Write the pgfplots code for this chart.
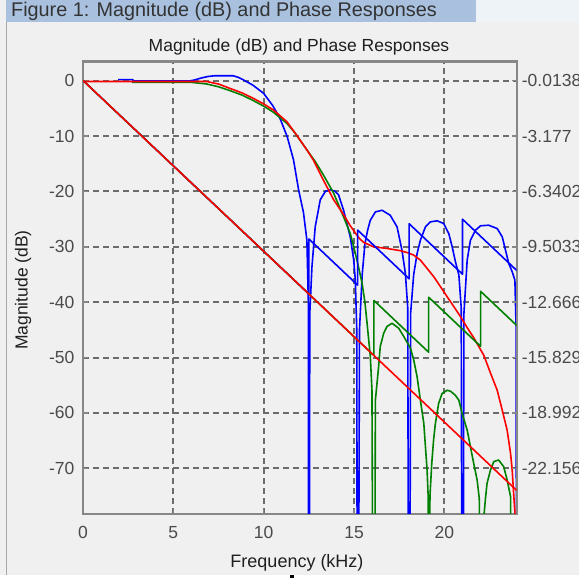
\documentclass[border=0pt]{standalone}
\usepackage{pgfplots}
\pgfplotsset{compat=1.18}
\usepackage{fontspec}
\setmainfont{Liberation Sans}
\definecolor{winbg}{HTML}{F0F0F0}
\definecolor{titlebar}{HTML}{A9C1DE}
\definecolor{gridc}{HTML}{6C6C6C}
\definecolor{axc}{HTML}{878787}
\definecolor{tickc}{HTML}{4A4A4A}
\definecolor{mgreen}{HTML}{008000}
\definecolor{mblue}{HTML}{0000FF}
\definecolor{mred}{HTML}{FF0000}

\pgfplotstableread{
f db
1.94 0.2
2.75 0.2
2.8 -0.05
5.9 -0.05
6.2 0.15
6.5 0.45
6.9 0.75
7.3 0.9
8.3 0.9
8.6 0.6
8.9 0.1
9.4 -0.8
10.0 -2.3
10.5 -4.5
10.9 -6.8
11.3 -10.1
11.65 -14.3
11.93 -19.7
12.2 -23.8
12.39 -28.8
12.47 -40
12.5 -150
12.55 -42
12.67 -33.6
12.85 -26.4
13.13 -21.5
13.41 -20
13.68 -19.7
13.95 -20
14.14 -20.6
14.42 -23.4
14.79 -28.2
14.98 -32.4
15.07 -36
15.15 -45
15.2 -150
15.3 -45
15.45 -35
15.6 -29.5
15.75 -27
15.9 -25.2
16.18 -23.7
16.55 -23.4
17.0 -24.3
17.38 -26.4
17.65 -30.6
17.84 -34.8
17.97 -41
18.05 -150
18.13 -42
18.3 -35
18.49 -31.2
18.67 -28.8
18.95 -26.4
19.22 -25.5
19.6 -25.3
19.96 -25.8
20.24 -27.6
20.43 -30
20.61 -32.7
20.8 -35.1
20.93 -41
21.0 -150
21.08 -42
21.26 -32.4
21.44 -28.8
21.72 -27
22.0 -26.2
22.45 -26.1
22.92 -26.7
23.2 -28.2
23.38 -30.6
23.56 -33
23.75 -34.5
23.9 -36
23.97 -45
24.0 -150
}\bluemag

\pgfplotstableread{
f db
2.7 -0.3
6.0 -0.3
6.85 -0.6
7.5 -1.1
8.14 -1.8
8.8 -2.6
9.43 -3.6
10.0 -4.6
10.54 -5.7
11.28 -7.7
11.7 -9.3
12.02 -10.8
12.5 -13.0
12.85 -14.6
13.3 -17.0
13.87 -20.3
14.42 -24.6
14.79 -27.6
14.98 -30
15.16 -32.4
15.44 -36.5
15.6 -40
15.72 -43.8
15.9 -49.8
15.99 -55.9
16.1 -150
16.18 -57.7
16.36 -51.6
16.45 -48
16.64 -45.6
16.82 -44.4
17.1 -43.8
17.47 -44.7
17.75 -46.2
18.12 -48.3
18.3 -50.4
18.49 -53.5
18.67 -57.7
18.86 -61.9
18.95 -66.1
19.04 -70.3
19.1 -75
19.13 -150
19.2 -75
19.3 -69.1
19.4 -64.9
19.5 -61.9
19.68 -58.3
19.87 -56.5
20.15 -55.9
20.35 -56.1
20.6 -56.8
20.8 -57.7
20.98 -60.1
21.26 -63.1
21.44 -66.1
21.62 -69.1
21.81 -72.1
21.93 -75.5
22.0 -150
22.15 -80
22.27 -75.5
22.36 -72.7
22.55 -70.3
22.73 -68.8
23.0 -68.5
23.28 -69.7
23.47 -72.1
23.66 -75.1
23.75 -150
}\greenmag

\pgfplotstableread{
f db
0 -0.15
6.85 -0.15
7.5 -0.6
8.14 -1.4
8.8 -2.2
9.43 -3.2
10.0 -4.2
10.54 -5.3
11.28 -7.4
11.86 -10
12.39 -12.5
12.76 -14.4
13.31 -18
13.87 -21.5
14.42 -24.2
14.79 -26.2
15.07 -27.5
15.3 -28.5
15.53 -29.2
16.08 -30
16.83 -30.3
17.56 -30.7
18.0 -31.1
18.3 -31.5
18.67 -32.4
19.04 -33.9
19.41 -35.4
19.78 -37.2
20.15 -39
20.52 -40.8
20.89 -42.6
21.26 -44.6
21.62 -46.4
22.18 -49.6
22.55 -52.8
22.92 -55.9
23.2 -59.5
23.47 -63.1
23.66 -67.3
23.75 -70.3
23.82 -74
23.9 -78
23.95 -150
}\redmag

\pgfplotstableread{
f ph
0 0
12.5 -12.198
12.5 -9.056
15.2 -11.691
15.2 -8.549
18.05 -11.330
18.05 -8.188
21.0 -11.067
21.0 -7.925
24.0 -10.852
}\bluephase

\pgfplotstableread{
f ph
0 0
16.1 -15.711
16.1 -12.569
19.13 -15.526
19.13 -12.384
22.0 -15.185
22.0 -12.043
24.0 -13.995
}\greenphase

\pgfplotstableread{
f ph
0 0
24.0 -23.42
}\redphase

\begin{document}
\begin{tikzpicture}
% window background
\fill[winbg] (0pt,0pt) rectangle (579pt,578pt);
\fill[titlebar] (6pt,556pt) rectangle (579pt,578pt);
\fill[white!80!titlebar] (476pt,556pt) rectangle (579pt,578pt);
\node[anchor=base west, inner sep=0pt, font=\fontsize{19.8}{22}\selectfont, text=black!80]
  at (11pt,561.5pt) {Figure 1: Magnitude (dB) and Phase Responses};
\draw[black!35, line width=1pt] (6pt,3pt) -- (6pt,556pt);
\fill[white] (0pt,0pt) rectangle (579pt,2.5pt);
\fill[black] (290pt,0pt) rectangle (294pt,3pt);

\begin{axis}[
  at={(83pt,64pt)}, anchor=south west,
  scale only axis, width=433.7pt, height=452.5pt,
  xmin=0, xmax=24, ymin=-78.25, ymax=3.47,
  xtick={0,5,10,15,20}, xticklabels={0,5,10,15,20},
  ytick={0,-10,-20,-30,-40,-50,-60,-70},
  yticklabels={0,-10,-20,-30,-40,-50,-60,-70},
  tick align=inside, xtick pos=bottom, ytick pos=left,
  major tick length=5pt,
  grid=major,
  major grid style={gridc, line width=1.9pt, dash pattern=on 6pt off 4pt},
  axis line style={axc, line width=2.2pt},
  tick style={axc, line width=1.5pt},
  tick label style={font=\fontsize{17.5}{20}\selectfont, text=tickc},
  xticklabel style={anchor=north, inner sep=0pt, yshift=-12.5pt},
  yticklabel style={anchor=east, inner sep=0pt, xshift=-8.5pt},
  every axis plot/.append style={line width=1.6pt, line join=round},
]
\addplot[mblue] table[x=f, y=db] {\bluemag};
\addplot[mgreen] table[x=f, y=db] {\greenmag};
\addplot[mred] table[x=f, y=db] {\redmag};
\end{axis}

\begin{axis}[
  at={(83pt,64pt)}, anchor=south west,
  scale only axis, width=433.7pt, height=452.5pt,
  xmin=0, xmax=24, ymin=-24.7656, ymax=1.0838,
  axis x line=none, axis y line*=right,
  ytick={-0.0138,-3.177,-6.3402,-9.5033,-12.666,-15.829,-18.992,-22.156},
  yticklabels={-0.0138,-3.177,-6.3402,-9.5033,-12.666,-15.829,-18.992,-22.156},
  tick align=inside,
  major tick length=5pt,
  axis line style={axc, line width=2.2pt, -},
  tick style={axc, line width=1.5pt},
  tick label style={font=\fontsize{17.5}{20}\selectfont, text=tickc},
  yticklabel style={anchor=west, inner sep=0pt, xshift=5pt},
  every axis plot/.append style={line width=1.6pt, line join=round},
]
\addplot[mblue] table[x=f, y=ph] {\bluephase};
\addplot[mgreen] table[x=f, y=ph] {\greenphase};
\addplot[mred] table[x=f, y=ph] {\redphase};
\end{axis}

\node[anchor=base, inner sep=0pt, font=\fontsize{17.5}{20}\selectfont, text=black!88]
  at (299pt,526.5pt) {Magnitude (dB) and Phase Responses};
\node[anchor=base, inner sep=0pt, font=\fontsize{18}{20}\selectfont, text=black!88]
  at (297pt,10.5pt) {Frequency (kHz)};
\node[rotate=90, inner sep=0pt, font=\fontsize{17.5}{20}\selectfont, text=black!88]
  at (23pt,288pt) {Magnitude (dB)};

\pgfresetboundingbox
\path[use as bounding box] (0pt,0pt) rectangle (579pt,578pt);
\end{tikzpicture}
\end{document}
